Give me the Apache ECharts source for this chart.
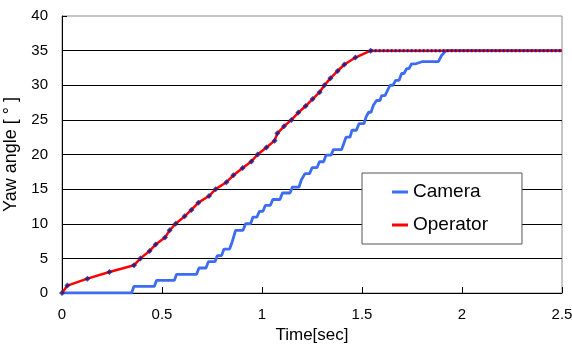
<!DOCTYPE html>
<html>
<head>
<meta charset="utf-8">
<script src="https://cdn.jsdelivr.net/npm/echarts@6/dist/echarts.min.js"></script>
<style>
	html, body { margin: 0; padding: 0; background: #fff; }
	#chart { width: 572px; height: 352px; }
</style>
</head>
<body>
<div id="chart"></div>
<script>
// 时间轴 / 角度轴刻度
var timeTicks = [0, 0.5, 1, 1.5, 2, 2.5];
var angleTicks = [0, 5, 10, 15, 20, 25, 30, 35, 40];

// Camera: 阶梯状 [time, angle]
var cameraData = [
	[0, 0], [0.348, 0], [0.36, 0.97],
	[0.462, 0.97], [0.473, 1.83],
	[0.562, 1.83], [0.573, 2.7],
	[0.673, 2.7], [0.685, 3.61],
	[0.72, 3.61], [0.732, 4.53],
	[0.765, 4.53], [0.777, 5.4],
	[0.798, 5.4], [0.81, 6.35],
	[0.838, 6.35], [0.85, 7.3], [0.868, 9.05],
	[0.905, 9.05], [0.918, 10.0],
	[0.943, 10.0], [0.955, 10.97],
	[0.975, 10.97], [0.987, 11.8],
	[1.005, 11.8], [1.017, 12.66],
	[1.042, 12.66], [1.054, 13.5],
	[1.09, 13.5], [1.102, 14.44],
	[1.14, 14.44], [1.152, 15.3],
	[1.185, 15.3], [1.197, 16.35],
	[1.205, 16.35], [1.215, 17.24],
	[1.238, 17.24], [1.25, 18.1],
	[1.275, 18.1], [1.287, 18.95],
	[1.308, 18.95], [1.32, 19.9],
	[1.345, 19.9], [1.357, 20.7],
	[1.398, 20.7], [1.42, 22.5],
	[1.44, 22.5], [1.45, 23.5],
	[1.472, 23.5], [1.485, 24.45],
	[1.51, 24.45], [1.52, 25.4], [1.533, 26.1],
	[1.545, 26.1], [1.557, 27.1],
	[1.565, 27.1], [1.573, 27.8],
	[1.59, 27.8], [1.598, 28.5],
	[1.615, 28.5], [1.64, 30.0],
	[1.655, 30.0], [1.668, 30.7],
	[1.685, 30.7], [1.698, 31.7],
	[1.71, 31.7], [1.723, 32.4],
	[1.735, 32.4], [1.748, 33.1],
	[1.77, 33.1], [1.8, 33.4],
	[1.882, 33.4], [1.898, 34.3], [1.92, 35],
	[2.5, 35]
];

// Operator: 采样点
var operatorData = [
	[0, 0], [0.027, 1.07], [0.127, 2.07], [0.237, 3.03], [0.36, 4.0],
	[0.392, 5.0], [0.438, 6.07], [0.468, 7.0], [0.515, 8.0], [0.538, 9.05],
	[0.568, 10.0], [0.613, 11.07], [0.647, 12.0], [0.682, 13.05], [0.735, 14.0],
	[0.768, 15.0], [0.822, 16.0], [0.857, 17.0], [0.903, 18.05], [0.947, 19.0],
	[0.978, 20.0], [1.022, 21.0], [1.063, 22.0], [1.077, 23.06], [1.11, 24.07],
	[1.147, 25.0], [1.182, 26.05], [1.218, 27.0], [1.253, 28.0], [1.288, 29.0],
	[1.312, 30.0], [1.342, 31.0], [1.378, 32.06], [1.412, 33.0], [1.467, 34.0],
	[1.543, 35.0], [2.5, 35.0]
];

// Operator 保持段 (密集采样点)
var operatorHold = [[1.543, 35.0], [2.5, 35.0]];

var font = "'Liberation Sans', Arial, sans-serif";

var chart = echarts.init(document.getElementById('chart'), null, { renderer: 'canvas' });

var options =
{
	animation: false,
	backgroundColor: '#ffffff',
	textStyle: { fontFamily: font },
	grid:
	{
		left: 62,
		right: 10,
		top: 16,
		bottom: 59,
		outerBoundsMode: 'none',
		containLabel: false,
		show: true,
		borderColor: '#8c8c8c',
		borderWidth: 1
	},
	legend:
	{
		data: ['Camera', 'Operator'],
		orient: 'vertical',
		left: 362,
		top: 173,
		padding: [9, 34, 9, 30],
		itemGap: 13,
		itemWidth: 16,
		itemHeight: 3,
		icon: 'rect',
		backgroundColor: '#ffffff',
		borderColor: '#555555',
		borderWidth: 1,
		textStyle: { fontFamily: font, fontSize: 19, color: '#000', lineHeight: 20 }
	},
	xAxis:
	{
		type: 'value',
		min: 0,
		max: 2.5,
		interval: 0.5,
		name: 'Time[sec]',
		nameLocation: 'middle',
		nameGap: 34,
		nameTextStyle: { fontFamily: font, fontSize: 17, color: '#000' },
		axisLine: { show: true, lineStyle: { color: '#000', width: 1 } },
		axisTick: { show: true, inside: true, length: 6, lineStyle: { color: '#000' } },
		axisLabel:
		{
			margin: 14,
			fontFamily: font,
			fontSize: 15,
			color: '#000',
			formatter: function(v) { return timeTicks.indexOf(v) >= 0 ? String(v) : ''; }
		},
		splitLine: { show: false }
	},
	yAxis:
	{
		type: 'value',
		min: 0,
		max: 40,
		interval: 5,
		name: 'Yaw angle [ ° ]',
		nameLocation: 'middle',
		nameGap: 34,
		nameTextStyle: { fontFamily: font, fontSize: 18, color: '#000' },
		axisLine: { show: true, lineStyle: { color: '#000', width: 1 } },
		axisTick: { show: true, inside: true, length: 5, lineStyle: { color: '#000' } },
		axisLabel:
		{
			margin: 14,
			fontFamily: font,
			fontSize: 15,
			color: '#000',
			formatter: function(v) { return angleTicks.indexOf(v) >= 0 ? String(v) : ''; }
		},
		splitLine: { show: true, showMaxLine: false, lineStyle: { color: '#000', width: 1 } }
	},
	series:
	[
		{
			name: 'Camera',
			type: 'line',
			data: cameraData,
			showSymbol: false,
			symbol: 'none',
			color: '#3b6cf2',
			lineStyle: { color: '#3b6cf2', width: 2.8 },
			z: 3
		},
		{
			name: 'Operator',
			type: 'line',
			data: operatorData,
			showSymbol: false,
			symbol: 'none',
			color: '#ff0000',
			lineStyle: { color: '#ff0000', width: 2.5 },
			z: 4
		},
		{
			name: 'OperatorHold',
			type: 'line',
			data: operatorHold,
			symbol: 'none',
			lineStyle: { color: '#1c1c8a', width: 3, type: [2, 2] },
			z: 5
		},
		{
			name: 'OperatorPoints',
			type: 'scatter',
			data: operatorData.slice(0, operatorData.length - 1),
			symbol: 'diamond',
			symbolSize: 6,
			itemStyle: { color: '#1c1c8a' },
			z: 5
		}
	]
};

chart.setOption(options);
</script>
</body>
</html>
